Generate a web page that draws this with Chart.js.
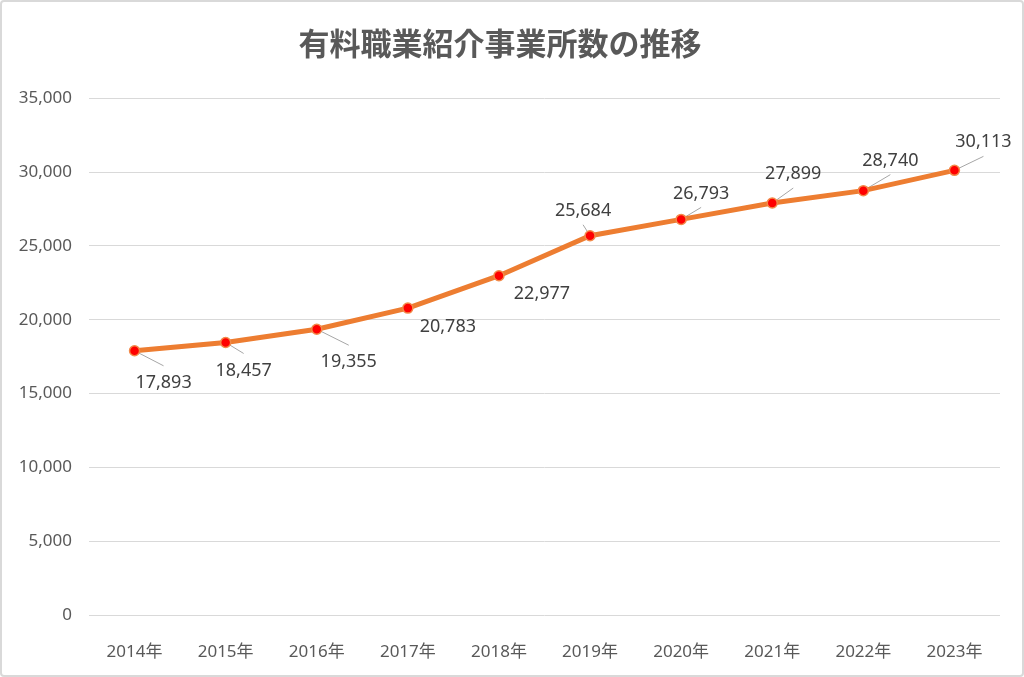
<!DOCTYPE html>
<html lang="ja">
<head>
<meta charset="utf-8">
<title>有料職業紹介事業所数の推移</title>
<script src="https://cdn.jsdelivr.net/npm/chart.js@4"></script>
<style>
  html, body { margin: 0; padding: 0; background: #fff; }
  .frame {
    position: absolute; left: 0; top: 0; width: 1024px; height: 677px;
    box-sizing: border-box; border: 2px solid #d9d9d9; border-radius: 4px;
  }
  canvas { position: absolute; left: 0; top: 0; }
</style>
</head>
<body>
<div class="frame"></div>
<canvas id="chart" width="1024" height="677"></canvas>
<script>
const categories = ['2014年', '2015年', '2016年', '2017年', '2018年', '2019年', '2020年', '2021年', '2022年', '2023年'];
const offices = [17893, 18457, 19355, 20783, 22977, 25684, 26793, 27899, 28740, 30113];
const yTicks = [0, 5000, 10000, 15000, 20000, 25000, 30000, 35000];

// where each data label sits relative to its point (dx, dy) and whether it has a leader line
const labelPlacement = [
  [29, 32, true], [18, 28, true], [32, 33, true], [40, 19, false], [43, 18, false],
  [-7, -25, true], [20, -26, true], [21, -29, true], [27, -30, true], [29, -28, true]
];

const fontFamily = '"Noto Sans", "Noto Sans CJK JP", sans-serif';
const titleFont = '"Noto Sans CJK JP", "Noto Sans", sans-serif';

const dataLabels = {
  id: 'dataLabels',
  beforeDatasetsDraw(chart) {
    // leader lines sit under the line and markers
    const ctx = chart.ctx;
    ctx.save();
    ctx.strokeStyle = '#a6a6a6';
    ctx.lineWidth = 1;
    chart.getDatasetMeta(0).data.forEach((pt, i) => {
      const [dx, dy, leader] = labelPlacement[i];
      if (!leader) return;
      const ex = pt.x + dx;
      const ey = dy > 0 ? pt.y + dy - 17 : pt.y + dy + 14;
      ctx.beginPath();
      ctx.moveTo(pt.x, pt.y);
      ctx.lineTo(ex, ey);
      ctx.stroke();
    });
    ctx.restore();
  },
  afterDatasetsDraw(chart) {
    const ctx = chart.ctx;
    ctx.save();
    ctx.font = '18px ' + fontFamily;
    ctx.textAlign = 'center';
    ctx.textBaseline = 'middle';
    ctx.fillStyle = '#404040';
    chart.getDatasetMeta(0).data.forEach((pt, i) => {
      const [dx, dy] = labelPlacement[i];
      ctx.fillText(offices[i].toLocaleString('en-US'), pt.x + dx, pt.y + dy);
    });
    ctx.restore();
  }
};

new Chart(document.getElementById('chart'), {
  type: 'line',
  data: {
    labels: categories,
    datasets: [{
      data: offices,
      borderColor: '#ed7d31',
      borderWidth: 5,
      pointBackgroundColor: '#ff0000',
      pointBorderColor: '#f28a4a',
      pointBorderWidth: 1.5,
      pointRadius: 5,
      tension: 0
    }]
  },
  options: {
    responsive: false,
    animation: false,
    layout: { padding: { left: 0, right: 24, top: 0, bottom: 0 } },
    plugins: {
      legend: { display: false },
      tooltip: { enabled: false },
      title: {
        display: true,
        text: '有料職業紹介事業所数の推移',
        color: '#595959',
        font: { family: titleFont, size: 31, weight: 'bold' },
        padding: { top: 25, bottom: 36 }
      }
    },
    scales: {
      x: {
        offset: true,
        grid: { display: false },
        border: { display: false },
        ticks: { color: '#595959', font: { family: fontFamily, size: 17 }, padding: 19 },
        afterFit(scale) { scale.height = 62; }
      },
      y: {
        min: 0,
        max: 35000,
        afterBuildTicks(scale) { scale.ticks = yTicks.map(v => ({ value: v })); },
        grid: { color: '#d9d9d9', lineWidth: 1, drawTicks: false },
        border: { display: false },
        ticks: {
          color: '#595959',
          font: { family: fontFamily, size: 17 },
          padding: 17,
          callback: v => v.toLocaleString('en-US')
        },
        afterFit(scale) { scale.width = 89; }
      }
    }
  },
  plugins: [dataLabels]
});
</script>
</body>
</html>
